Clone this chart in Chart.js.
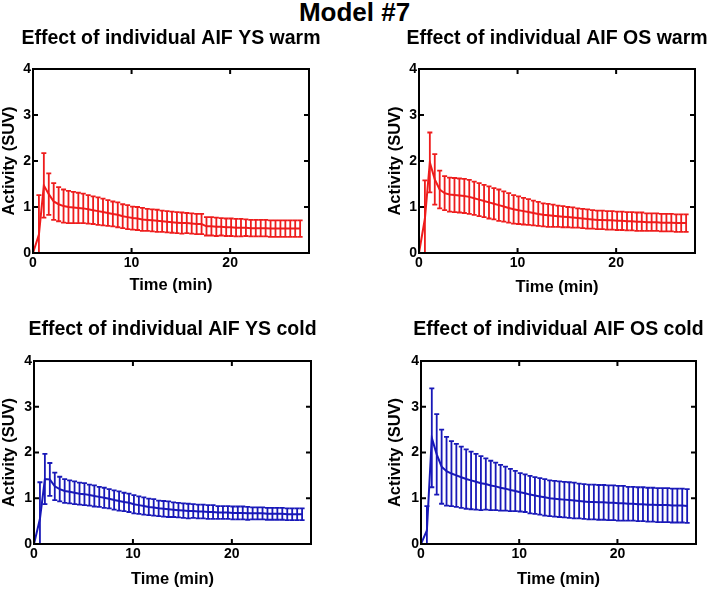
<!DOCTYPE html>
<html lang="en">
  <head>
    <meta charset="utf-8">
    <title>Model #7</title>
    <script src="https://cdn.jsdelivr.net/npm/chart.js"></script>
    <style>
      body { margin: 0; background: #fff; }
      #page { position: relative; width: 709px; height: 590px; overflow: hidden; }
      #page canvas { position: absolute; }
      #mainTitle { position: absolute; left: 0; top: -3px; width: 709px; text-align: center;
        font: bold 26px "Liberation Sans", Arial, sans-serif; color: #000; }
    </style>
  </head>
  <body>
    <div id="page">
      <div id="mainTitle">Model #7</div>
      <canvas id="c1" width="354" height="280" style="left:0px;top:20px"></canvas>
      <canvas id="c2" width="323" height="280" style="left:386px;top:20px"></canvas>
      <canvas id="c3" width="355" height="279" style="left:0px;top:311px"></canvas>
      <canvas id="c4" width="323" height="279" style="left:386px;top:311px"></canvas>
    </div>

    <script>
      // time of each frame (min)
      var times = [
        0, 0.6, 1.1, 1.6, 2.1, 2.6, 3.1, 3.6, 4.1, 4.6,
        5.1, 5.6, 6.1, 6.6, 7.1, 7.6, 8.1, 8.6, 9.1, 9.6,
        10.1, 10.6, 11.1, 11.6, 12.1, 12.6, 13.1, 13.6, 14.1, 14.6,
        15.1, 15.6, 16.1, 16.6, 17.1, 17.6, 18.1, 18.6, 19.1, 19.6,
        20.1, 20.6, 21.1, 21.6, 22.1, 22.6, 23.1, 23.6, 24.1, 24.6,
        25.1, 25.6, 26.1, 26.6, 27.1
      ];

      // YS warm
      var ysWarm = [
        0, 0.40, 1.47, 1.28, 1.12, 1.06, 1.02, 1.00, 0.99, 0.98,
        0.97, 0.95, 0.93, 0.91, 0.89, 0.87, 0.85, 0.83, 0.80, 0.78,
        0.76, 0.75, 0.73, 0.72, 0.71, 0.70, 0.69, 0.68, 0.67, 0.66,
        0.65, 0.65, 0.64, 0.63, 0.63, 0.58, 0.58, 0.57, 0.57, 0.56,
        0.56, 0.55, 0.55, 0.55, 0.54, 0.54, 0.54, 0.54, 0.53, 0.53,
        0.53, 0.53, 0.53, 0.53, 0.53
      ];
      var ysWarmSd = [
        0, 0.86, 0.70, 0.45, 0.40, 0.37, 0.36, 0.35, 0.34, 0.33,
        0.32, 0.31, 0.30, 0.30, 0.29, 0.28, 0.27, 0.27, 0.26, 0.26,
        0.25, 0.25, 0.25, 0.24, 0.24, 0.24, 0.23, 0.23, 0.23, 0.23,
        0.23, 0.22, 0.22, 0.22, 0.22, 0.20, 0.20, 0.20, 0.19, 0.19,
        0.19, 0.19, 0.19, 0.18, 0.18, 0.18, 0.18, 0.18, 0.18, 0.18,
        0.18, 0.18, 0.18, 0.18, 0.18
      ];

      // OS warm
      var osWarm = [
        0, 0.75, 1.97, 1.60, 1.38, 1.30, 1.27, 1.26, 1.25, 1.24,
        1.22, 1.19, 1.16, 1.13, 1.10, 1.07, 1.04, 1.01, 0.98, 0.95,
        0.93, 0.91, 0.89, 0.87, 0.85, 0.83, 0.82, 0.81, 0.80, 0.79,
        0.78, 0.77, 0.76, 0.75, 0.74, 0.73, 0.72, 0.72, 0.71, 0.71,
        0.70, 0.70, 0.69, 0.69, 0.68, 0.68, 0.67, 0.67, 0.67, 0.66,
        0.66, 0.66, 0.65, 0.65, 0.65
      ];
      var osWarmSd = [
        0, 0.83, 0.65, 0.55, 0.41, 0.37, 0.37, 0.37, 0.37, 0.37,
        0.37, 0.36, 0.36, 0.35, 0.35, 0.34, 0.34, 0.33, 0.32, 0.31,
        0.30, 0.29, 0.28, 0.27, 0.26, 0.25, 0.25, 0.24, 0.23, 0.23,
        0.22, 0.22, 0.21, 0.21, 0.21, 0.20, 0.20, 0.20, 0.20, 0.20,
        0.20, 0.20, 0.20, 0.20, 0.20, 0.20, 0.19, 0.19, 0.19, 0.19,
        0.19, 0.19, 0.19, 0.19, 0.19
      ];

      // YS cold
      var ysCold = [
        0, 0.55, 1.42, 1.41, 1.26, 1.20, 1.16, 1.14, 1.12, 1.10,
        1.09, 1.07, 1.05, 1.03, 1.01, 0.99, 0.96, 0.94, 0.92, 0.90,
        0.87, 0.85, 0.83, 0.81, 0.80, 0.78, 0.77, 0.76, 0.75, 0.74,
        0.73, 0.72, 0.72, 0.71, 0.71, 0.70, 0.70, 0.69, 0.69, 0.69,
        0.68, 0.68, 0.68, 0.67, 0.67, 0.67, 0.67, 0.66, 0.66, 0.66,
        0.66, 0.65, 0.65, 0.65, 0.65
      ];
      var ysColdSd = [
        0, 0.80, 0.55, 0.36, 0.30, 0.27, 0.26, 0.25, 0.25, 0.24,
        0.24, 0.23, 0.23, 0.22, 0.22, 0.21, 0.21, 0.21, 0.20, 0.20,
        0.20, 0.19, 0.19, 0.18, 0.18, 0.17, 0.17, 0.17, 0.16, 0.16,
        0.16, 0.16, 0.15, 0.15, 0.15, 0.15, 0.15, 0.14, 0.14, 0.14,
        0.14, 0.14, 0.14, 0.14, 0.13, 0.13, 0.13, 0.13, 0.13, 0.13,
        0.13, 0.13, 0.13, 0.13, 0.13
      ];

      // OS cold
      var osCold = [
        0, 0.30, 2.32, 1.96, 1.69, 1.59, 1.54, 1.50, 1.46, 1.42,
        1.39, 1.36, 1.33, 1.31, 1.28, 1.26, 1.23, 1.21, 1.18, 1.16,
        1.13, 1.11, 1.08, 1.06, 1.04, 1.02, 1.00, 0.99, 0.98, 0.97,
        0.96, 0.95, 0.94, 0.93, 0.92, 0.92, 0.91, 0.91, 0.90, 0.90,
        0.89, 0.89, 0.88, 0.88, 0.87, 0.87, 0.86, 0.86, 0.85, 0.85,
        0.85, 0.84, 0.84, 0.84, 0.83
      ];
      var osColdSd = [
        0, 0.53, 1.08, 0.88, 0.81, 0.75, 0.71, 0.69, 0.67, 0.65,
        0.63, 0.61, 0.59, 0.56, 0.54, 0.52, 0.50, 0.48, 0.46, 0.44,
        0.42, 0.41, 0.41, 0.40, 0.40, 0.40, 0.39, 0.39, 0.39, 0.39,
        0.39, 0.39, 0.38, 0.38, 0.38, 0.38, 0.38, 0.38, 0.38, 0.38,
        0.38, 0.38, 0.37, 0.37, 0.37, 0.37, 0.37, 0.37, 0.37, 0.37,
        0.37, 0.37, 0.37, 0.37, 0.37
      ];

      var xTicks = [0, 10, 20];
      var yTicks = [0, 1, 2, 3, 4];

      var RED = '#ee1c1c';
      var BLUE = '#1818b8';
      var FONT = '"Liberation Sans", Arial, sans-serif';

      // error bars, panel title, matlab style box with inward ticks
      var errbarPlugin = {
        id: 'errbars',
        afterDatasetsDraw: function(chart, args, opts) {
          var ctx = chart.ctx, a = chart.chartArea;
          var xs = chart.scales.x, ys = chart.scales.y;
          var pts = chart.data.datasets[0].data;
          ctx.save();
          ctx.beginPath();
          ctx.rect(a.left, a.top, a.right - a.left, a.bottom - a.top);
          ctx.clip();
          ctx.strokeStyle = opts.color;
          ctx.lineWidth = 1.8;
          for (var i = 0; i < pts.length; i++) {
            var e = opts.err[i];
            if (!e) continue;
            var px = xs.getPixelForValue(pts[i].x);
            var top = ys.getPixelForValue(pts[i].y + e);
            var bot = ys.getPixelForValue(pts[i].y - e);
            ctx.beginPath();
            ctx.moveTo(px, top); ctx.lineTo(px, bot);
            ctx.moveTo(px - 2.5, top); ctx.lineTo(px + 2.5, top);
            ctx.moveTo(px - 2.5, bot); ctx.lineTo(px + 2.5, bot);
            ctx.stroke();
          }
          ctx.restore();
        },
        afterDraw: function(chart, args, opts) {
          var ctx = chart.ctx, a = chart.chartArea;
          var xs = chart.scales.x, ys = chart.scales.y;
          ctx.save();
          ctx.strokeStyle = '#000';
          ctx.lineWidth = 2;
          ctx.strokeRect(a.left, a.top, a.right - a.left, a.bottom - a.top);
          ctx.beginPath();
          xTicks.forEach(function(v) {
            var px = xs.getPixelForValue(v);
            ctx.moveTo(px, a.bottom); ctx.lineTo(px, a.bottom - 5);
            ctx.moveTo(px, a.top); ctx.lineTo(px, a.top + 5);
          });
          yTicks.forEach(function(v) {
            var py = ys.getPixelForValue(v);
            ctx.moveTo(a.left, py); ctx.lineTo(a.left + 5, py);
            ctx.moveTo(a.right, py); ctx.lineTo(a.right - 5, py);
          });
          ctx.stroke();
          // panel title, centred over the plot box
          ctx.fillStyle = '#000';
          ctx.font = 'bold 19.5px ' + FONT;
          ctx.textAlign = 'center';
          ctx.textBaseline = 'middle';
          ctx.fillText(opts.title, (a.left + a.right) / 2, opts.titleY);
          ctx.restore();
        }
      };

      // pos: canvas box, area: plot area (page px), titleY / xTitleY: text centres
      function makePanel(id, pos, area, titleY, xTitleY, title, mean, sd, color) {
        var axisLH = 19.8;
        var xAxisH = pos.top + pos.h - area.b;
        var yAxisW = area.l - pos.left;
        var xTitlePad = pos.top + pos.h - xTitleY - axisLH / 2;
        var pts = times.map(function(t, i) { return {x: t, y: mean[i]}; });

        return new Chart(document.getElementById(id), {
          type: 'line',
          data: {
            datasets: [{
              data: pts,
              borderColor: color,
              backgroundColor: color,
              borderWidth: 2,
              pointRadius: 0,
              tension: 0
            }]
          },
          options: {
            responsive: false,
            animation: false,
            layout: { padding: { left: 0, right: pos.left + pos.w - area.r, top: area.t - pos.top, bottom: 0 } },
            plugins: {
              legend: { display: false },
              tooltip: { enabled: false },
              title: { display: false },
              errbars: { err: sd, color: color, title: title, titleY: titleY - pos.top + 1 }
            },
            scales: {
              x: {
                type: 'linear', min: 0, max: 28,
                afterFit: function(s) { s.height = xAxisH; },
                ticks: { stepSize: 10, includeBounds: false, maxRotation: 0, padding: 2, color: '#000',
                  font: { family: FONT, size: 14, weight: 'bold' } },
                grid: { display: false, drawTicks: false },
                border: { display: false },
                title: { display: true, text: 'Time (min)', color: '#000',
                  font: { family: FONT, size: 16.5, weight: 'bold', lineHeight: 1.2 },
                  padding: { top: 0, bottom: xTitlePad } }
              },
              y: {
                min: 0, max: 4,
                afterFit: function(s) { s.width = yAxisW; },
                ticks: { stepSize: 1, padding: 2, color: '#000',
                  font: { family: FONT, size: 14, weight: 'bold' } },
                grid: { display: false, drawTicks: false },
                border: { display: false },
                title: { display: true, text: 'Activity (SUV)', color: '#000',
                  font: { family: FONT, size: 16.5, weight: 'bold', lineHeight: 1.2 },
                  padding: { top: 0, bottom: 0 } }
              }
            }
          },
          plugins: [errbarPlugin]
        });
      }

      makePanel('c1', {left: 0, top: 20, w: 354, h: 280}, {l: 33, r: 309, t: 69, b: 253}, 38, 285,
        'Effect of individual AIF YS warm', ysWarm, ysWarmSd, RED);
      makePanel('c2', {left: 386, top: 20, w: 323, h: 280}, {l: 419, r: 695, t: 69, b: 253}, 38, 287,
        'Effect of individual AIF OS warm', osWarm, osWarmSd, RED);
      makePanel('c3', {left: 0, top: 311, w: 355, h: 279}, {l: 34, r: 311, t: 361, b: 544}, 329, 579,
        'Effect of individual AIF YS cold', ysCold, ysColdSd, BLUE);
      makePanel('c4', {left: 386, top: 311, w: 323, h: 279}, {l: 421, r: 696, t: 361, b: 544}, 329, 579,
        'Effect of individual AIF OS cold', osCold, osColdSd, BLUE);
    </script>
  </body>
</html>
